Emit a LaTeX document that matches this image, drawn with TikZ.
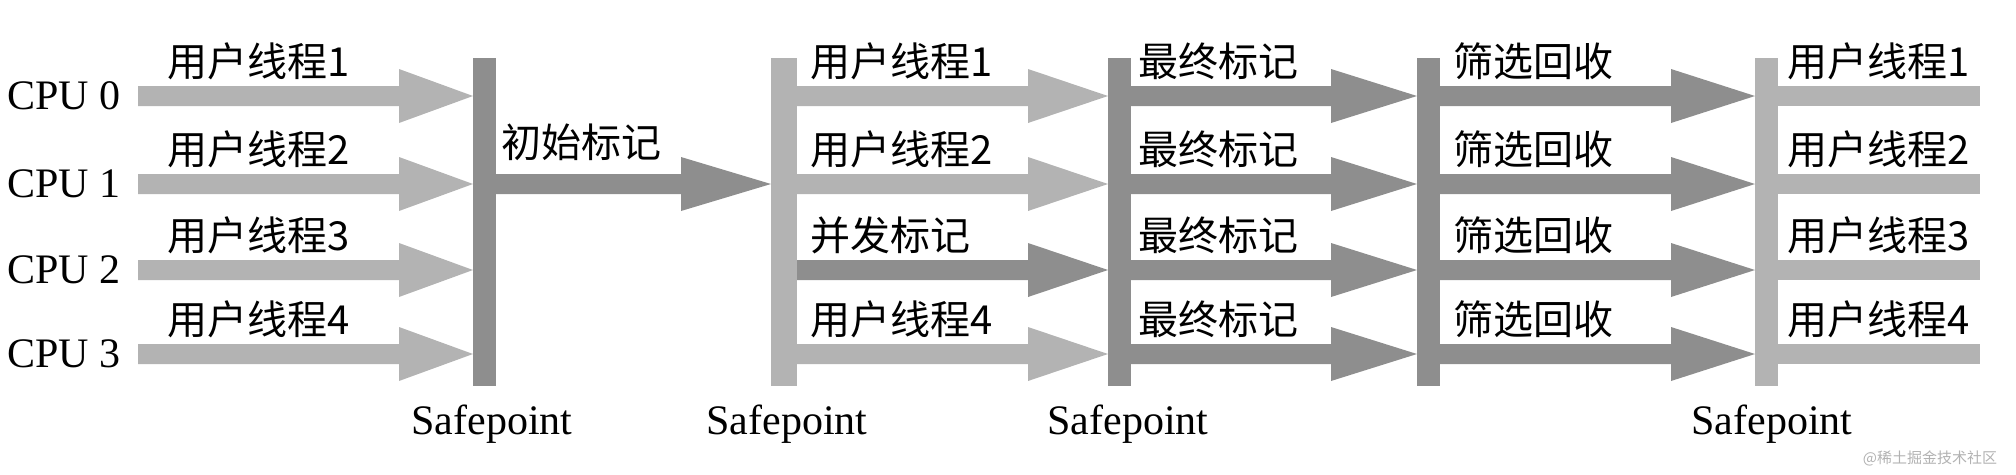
\documentclass[tikz,border=0pt]{standalone}
\usepackage{fontspec}
\setmainfont{Liberation Serif}
\newfontfamily\cjk{Noto Sans CJK SC}
\definecolor{lg}{HTML}{B3B3B3}
\definecolor{dg}{HTML}{8E8E8E}
% arrow: color, start x, head x, tip x, y
\newcommand\garrow[5]{\fill[#1] (#2,#5-10) -- (#3,#5-10) -- (#3,#5-27) -- (#4,#5) -- (#3,#5+27) -- (#3,#5+10) -- (#2,#5+10) -- cycle;}
\begin{document}
\begin{tikzpicture}[x=1pt,y=-1pt,
  lab/.style={anchor=west,inner sep=0pt,font=\cjk\fontsize{40}{40}\selectfont},
  cpu/.style={inner sep=0pt,font=\fontsize{42}{42}\selectfont},
  sp/.style={inner sep=0pt,font=\fontsize{42}{42}\selectfont}]
\useasboundingbox (0,0) rectangle (2016,474);
% bars
\fill[dg] (473,58) rectangle (496,386);
\fill[lg] (771,58) rectangle (797,386);
\fill[dg] (1108,58) rectangle (1131,386);
\fill[dg] (1417,58) rectangle (1440,386);
\fill[lg] (1755,58) rectangle (1778,386);
\foreach \y/\n in {96/0,184/1,270/2,354/3}{
  \node[cpu] (cpu\n) at (64,\y) {CPU \n};
}
\foreach \y/\n in {96/1,184/2,270/3,354/4}{
  \garrow{lg}{138}{399}{473}{\y}
  \node[lab] (a\n) at (167,\y-35) {用户线程\n};
  \garrow{dg}{1131}{1331}{1417}{\y}
  \node[lab] (c\n) at (1138,\y-35) {最终标记};
  \garrow{dg}{1440}{1671}{1755}{\y}
  \node[lab] (d\n) at (1453,\y-35) {筛选回收};
  \fill[lg] (1778,\y-10) rectangle (1980,\y+10);
  \node[lab] (e\n) at (1787,\y-35) {用户线程\n};
}
\garrow{dg}{496}{681}{771}{184}
\node[lab] (init) at (501,184-42) {初始标记};
\garrow{lg}{797}{1028}{1108}{96}
\node[lab] (b1) at (810,96-35) {用户线程1};
\garrow{lg}{797}{1028}{1108}{184}
\node[lab] (b2) at (810,184-35) {用户线程2};
\garrow{dg}{797}{1028}{1108}{270}
\node[lab] (b3) at (810,270-35) {并发标记};
\garrow{lg}{797}{1028}{1108}{354}
\node[lab] (b4) at (810,354-35) {用户线程4};
\foreach \x/\n in {492/1,787/2,1128/3,1772/5}{
  \node[sp] (sp\n) at (\x,424) {Safepoint};
}
\node[inner sep=0pt,text=gray!60,font=\cjk\fontsize{15}{15}\selectfont] (wm) at (1930,458) {@稀土掘金技术社区};
\end{tikzpicture}
\end{document}
